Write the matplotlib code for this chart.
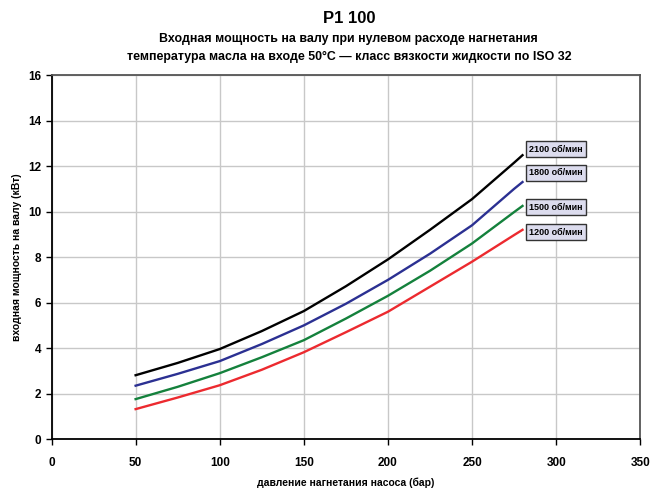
import matplotlib.pyplot as plt

plt.rcParams['font.family'] = ['Liberation Sans', 'DejaVu Sans']

pressure = [50, 75, 100, 125, 150, 175, 200, 225, 250, 275, 280]
p2100 = [2.81, 3.35, 3.96, 4.75, 5.63, 6.72, 7.9, 9.2, 10.55, 12.15, 12.48]
p1800 = [2.35, 2.87, 3.43, 4.18, 5.0, 5.95, 7.0, 8.15, 9.4, 11.0, 11.3]
p1500 = [1.76, 2.3, 2.9, 3.6, 4.35, 5.3, 6.3, 7.4, 8.6, 9.98, 10.25]
p1200 = [1.32, 1.83, 2.37, 3.05, 3.82, 4.7, 5.6, 6.7, 7.8, 8.97, 9.2]

labels = ["2100 об/мин", "1800 об/мин", "1500 об/мин", "1200 об/мин"]
label_y = [12.75, 11.7, 10.2, 9.1]
colors = ["black", "#2b3092", "#14813c", "#ec2a2f"]

fig = plt.figure(figsize=(6.52, 4.94), dpi=100)
ax = fig.add_axes([0.079, 0.111, 0.903, 0.737])

for ys, c in zip([p2100, p1800, p1500, p1200], colors):
    ax.plot(pressure, ys, color=c, lw=1.7)

for lab, y in zip(labels, label_y):
    ax.text(284, y, lab, fontsize=6.5, fontweight='bold', va='center', ha='left',
            bbox=dict(boxstyle='square,pad=0.35', fc='#dcdcee', ec='#333333', lw=1))

ax.set_xlim(0, 350)
ax.set_ylim(0, 16)
ax.set_xticks(range(0, 351, 50))
ax.set_yticks(range(0, 17, 2))
ax.grid(True, color='#c8c8c8', lw=1)
ax.set_axisbelow(True)
for s in ['left', 'bottom']:
    ax.spines[s].set_color('black')
    ax.spines[s].set_linewidth(1.3)
for s in ['top', 'right']:
    ax.spines[s].set_color('#555555')
    ax.spines[s].set_linewidth(1.3)
ax.tick_params(labelsize=8.5, width=1, length=4)
for t in ax.get_xticklabels() + ax.get_yticklabels():
    t.set_fontweight('bold')
ax.tick_params(axis='x', pad=9)

ax.set_xlabel("давление нагнетания насоса (бар)", fontsize=7.5, fontweight='bold', labelpad=6)
ax.set_ylabel("входная мощность на валу (кВт)", fontsize=7.5, fontweight='bold', labelpad=4)

fig.text(0.535, 0.962, "P1 100", ha='center', va='center', fontsize=12, fontweight='bold')
fig.text(0.535, 0.922, "Входная мощность на валу при нулевом расходе нагнетания",
         ha='center', va='center', fontsize=8.9, fontweight='bold')
fig.text(0.535, 0.884, "температура масла на входе 50°C — класс вязкости жидкости по ISO 32",
         ha='center', va='center', fontsize=8.9, fontweight='bold')

fig.savefig("out.png", dpi=100)
